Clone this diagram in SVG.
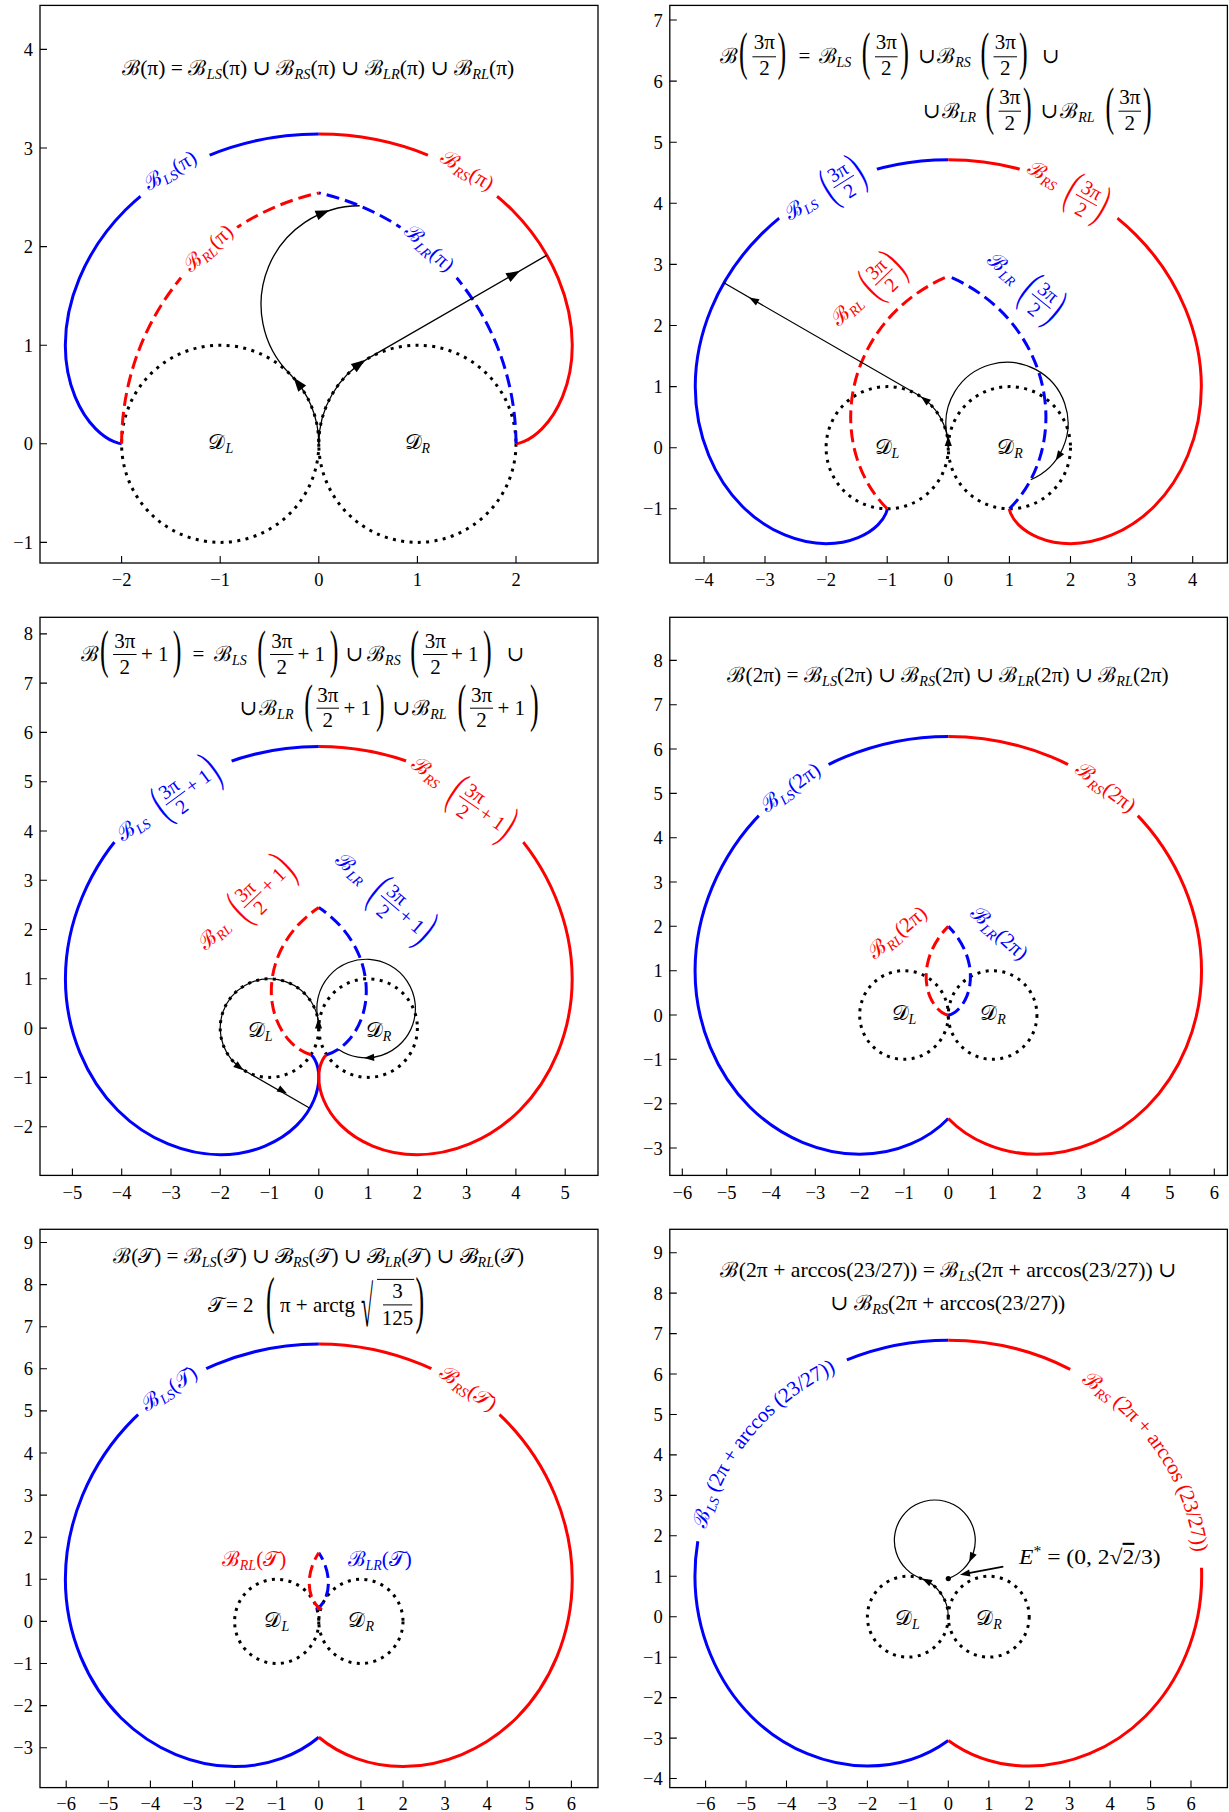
<svg xmlns="http://www.w3.org/2000/svg" width="1229" height="1812" viewBox="0 0 1229 1812">
<style>
.fr{fill:none;stroke:#000;stroke-width:1.3}
.tk{fill:none;stroke:#000;stroke-width:1.1}
.tx{font-family:"Liberation Serif","DejaVu Serif",serif;font-size:18.5px;fill:#000}
.f{font-family:"Liberation Serif","DejaVu Serif",serif;font-size:21px;fill:#000}
.s{font-size:14px;font-style:italic}
.lb{font-family:"Liberation Serif","DejaVu Serif",serif;font-size:21px}
.lf{font-family:"Liberation Serif","DejaVu Serif",serif;font-size:20px}
.bp{font-family:"Liberation Serif","DejaVu Serif",serif;font-size:20px}
.bl{fill:#00f}.rd{fill:#f00}
.cb{fill:none;stroke:#00f}.cr{fill:none;stroke:#f00}
.dc{fill:none;stroke:#000;stroke-width:3;stroke-dasharray:3 5.4}
.tj{fill:none;stroke:#000}
.fb{stroke:#000;stroke-width:1}.fbb{stroke:#00f;stroke-width:1}.fbr{stroke:#f00;stroke-width:1}
.it{font-style:italic}
</style>
<defs>
<path id="ah" d="M7,0L-7,-5L-7,5Z"/>
<path id="ah2" d="M5,0L-5,-3.6L-5,3.6Z"/>
<path id="p1ls" d="M0,3.1416 C-0.8225,3.1416 -1.5228,2.8094 -1.959,2.3732 C-2.3952,1.937 -2.5708,1.4112 -2.5708,1 C-2.5708,0.5888 -2.4079,0.2971 -2.2625,0.1517 C-2.1171,0.0063 -2,0 -2,0"/>
<path id="p1lr" d="M2,0 C2,0.402 1.907,0.8038 1.7333,1.1613 C1.5596,1.5188 1.3062,1.8312 1.0044,2.0686 C0.7026,2.306 0.3533,2.4673 0,2.5441"/>
<path id="p2ls" d="M0,4.7124 C-1.2337,4.7124 -2.3427,4.2109 -3.0697,3.4839 C-3.7967,2.7569 -4.1416,1.8225 -4.1416,1 C-4.1416,0.1775 -3.8094,-0.5228 -3.3732,-0.959 C-2.937,-1.3952 -2.4112,-1.5708 -2,-1.5708 C-1.5888,-1.5708 -1.2971,-1.4079 -1.1517,-1.2625 C-1.0063,-1.1171 -1,-1 -1,-1"/>
<path id="p2lr" d="M1,-1 C1.219,-0.781 1.4009,-0.4877 1.5037,-0.1467 C1.6065,0.1943 1.6291,0.5823 1.551,0.9675 C1.4729,1.3527 1.2945,1.7328 1.0268,2.0556 C0.7591,2.3784 0.4015,2.6423 0,2.8055"/>
<path id="p3ls" d="M0,5.7124 C-1.4955,5.7124 -2.8647,5.1031 -3.7768,4.191 C-4.6889,3.2789 -5.1416,2.0843 -5.1416,1 C-5.1416,-0.0843 -4.7016,-1.0448 -4.0803,-1.6661 C-3.459,-2.2874 -2.673,-2.5708 -2,-2.5708 C-1.327,-2.5708 -0.7751,-2.3001 -0.4446,-1.9696 C-0.1141,-1.6391 0,-1.2618 0,-1 C0,-0.8333 -0.0418,-0.711 -0.0818,-0.6379 C-0.1218,-0.5648 -0.1585,-0.5403 -0.1585,-0.5403"/>
<path id="p3lr" d="M0.1585,-0.5403 C0.2952,-0.5002 0.4669,-0.4049 0.6189,-0.2304 C0.7709,-0.0559 0.8996,0.1985 0.9454,0.5071 C0.9912,0.8157 0.9526,1.1795 0.7958,1.5278 C0.639,1.8761 0.3658,2.2062 0,2.4457"/>
<path id="p4ls" d="M0,6.2832 C-1.6449,6.2832 -3.1627,5.6123 -4.1804,4.5946 C-5.1981,3.5769 -5.7124,2.2337 -5.7124,1 C-5.7124,-0.2337 -5.2109,-1.3427 -4.4839,-2.0697 C-3.7569,-2.7967 -2.8225,-3.1416 -2,-3.1416 C-1.1536,-3.1416 -0.4334,-2.7884 0,-2.3331"/>
<path id="p4lr" d="M0,0 C0,0 0.0558,0.0015 0.1407,0.0583 C0.2256,0.1151 0.3375,0.2291 0.4142,0.4142 C0.4909,0.5993 0.5293,0.8554 0.4725,1.1407 C0.4157,1.426 0.2618,1.7382 0,2"/>
<path id="p5ls" d="M0,6.5906 C-1.7254,6.5906 -3.3231,5.8867 -4.3978,4.812 C-5.4725,3.7373 -6.0198,2.3142 -6.0198,1 C-6.0198,-0.3142 -5.4852,-1.5032 -4.7013,-2.2871 C-3.9174,-3.071 -2.903,-3.449 -2,-3.449 C-1.1981,-3.449 -0.4905,-3.1623 0,-2.7516"/>
<path id="p5lr" d="M0.0469,0.3026 C-0.0306,0.3146 -0.0593,0.2967 -0.0414,0.3047 C-0.0235,0.3127 0.0397,0.3492 0.103,0.4474 C0.1663,0.5456 0.2289,0.7057 0.2282,0.9158 C0.2275,1.1259 0.1616,1.3839 0,1.6309"/>
<path id="t6b" d="M697.8,1541.2 C703.8,1504.5 719.7,1467.6 744.95,1435.8 C770.5,1403.6 805.6,1376.7 846.9,1359.9"/>
<path id="t6r" d="M1070.2,1369.3 C1110.3,1389.9 1143.1,1420.3 1165.5,1455.2 C1188.1,1490.3 1200,1529.8 1201.5,1567.7"/>
<mask id="gap" maskUnits="userSpaceOnUse" x="0" y="0" width="1229" height="1812">
<rect width="1229" height="1812" fill="#fff"/>
<g fill="none" stroke="#000" stroke-width="13">
<polyline points="140.5,196.2 172.3,173.4 209.5,154.9"/>
<polyline points="497.1,196.2 465.3,173.4 428.1,154.9"/>
<polyline points="400.5,227.4 430.2,250.3 456.6,277.8"/>
<polyline points="237.1,227.4 207.4,250.3 181,277.8"/>
<polyline points="779.2,218.2 824.3,188.9 876.8,168.9"/>
<polyline points="1117.4,218.2 1072.3,188.9 1019.8,168.9"/>
<polyline points="114.4,842.1 137.1,817.3 165.4,794.1 198.8,774.3 231.5,760.8"/>
<polyline points="523.2,842.1 500.5,817.3 472.2,794.1 438.8,774.3 406.1,760.8"/>
<polyline points="758.8,815.6 790.95,787.3 828.3,764.1"/>
<polyline points="1137.8,815.6 1105.65,787.3 1068.3,764.1"/>
<polyline points="138.1,1414.5 169.9,1388.9 206.1,1368.4"/>
<polyline points="499.5,1414.5 467.7,1388.9 431.5,1368.4"/>
</g>
</mask>
</defs>
<rect width="1229" height="1812" fill="#fff"/>

<!-- ================= PANEL 1 ================= -->
<g id="panel1">
<rect class="fr" x="40" y="5.4" width="558" height="557.6"/>
<path class="tk" d="M121.6,563v-7M220.2,563v-7M318.8,563v-7M417.4,563v-7M516,563v-7M40,542.4h7M40,443.8h7M40,345.2h7M40,246.6h7M40,148h7M40,49.4h7"/>
<g class="tx" text-anchor="middle"><text x="121.6" y="586">−2</text><text x="220.2" y="586">−1</text><text x="318.8" y="586">0</text><text x="417.4" y="586">1</text><text x="516" y="586">2</text></g>
<g class="tx" text-anchor="end"><text x="33" y="548.9">−1</text><text x="33" y="450.3">0</text><text x="33" y="351.7">1</text><text x="33" y="253.1">2</text><text x="33" y="154.5">3</text><text x="33" y="55.9">4</text></g>
<circle class="dc" cx="220.2" cy="443.8" r="98.6"/><circle class="dc" cx="417.4" cy="443.8" r="98.6"/>
<g mask="url(#gap)"><g transform="translate(318.8,443.8) scale(98.6,-98.6)" stroke-width="0.0304">
<use href="#p1ls" class="cb"/><use href="#p1ls" class="cr" transform="scale(-1,1)"/>
<g stroke-dasharray="0.132 0.061"><use href="#p1lr" class="cb"/><use href="#p1lr" class="cr" transform="scale(-1,1)"/></g>
</g></g>
<g id="p1traj" class="tj" transform="translate(318.8,443.8) scale(98.6,-98.6)" stroke-width="0.0132">
<path d="M0,0 A1,1 0 0 1 -0.2929,0.7071 A1,1 0 0 0 0.4142,2.4142"/>
<path d="M0,0 A1,1 0 0 0 0.5,0.866 L2.3138,1.9132"/>
</g>
<use href="#ah" transform="translate(297.9,383.1) rotate(-128)"/>
<use href="#ah" transform="translate(323,212.8) rotate(-21.8)"/>
<use href="#ah" transform="translate(359.4,364) rotate(-36)"/>
<use href="#ah" transform="translate(514,274.2) rotate(-30)"/>
<text class="f" x="121.7" y="74.5" textLength="392.6" lengthAdjust="spacingAndGlyphs">ℬ(π) = ℬ<tspan class="s" dy="4">LS</tspan><tspan dy="-4">(π) ∪ ℬ</tspan><tspan class="s" dy="4">RS</tspan><tspan dy="-4">(π) ∪ ℬ</tspan><tspan class="s" dy="4">LR</tspan><tspan dy="-4">(π) ∪ ℬ</tspan><tspan class="s" dy="4">RL</tspan><tspan dy="-4">(π)</tspan></text>
<text class="lb bl" transform="translate(170.5,171) rotate(-31)" y="6" text-anchor="middle">ℬ<tspan class="s" dy="4">LS</tspan><tspan dy="-4">(π)</tspan></text>
<text class="lb rd" transform="translate(467,171) rotate(31)" y="6" text-anchor="middle">ℬ<tspan class="s" dy="4">RS</tspan><tspan dy="-4">(π)</tspan></text>
<text class="lb rd" transform="translate(208.5,248.5) rotate(-42)" y="6" text-anchor="middle">ℬ<tspan class="s" dy="4">RL</tspan><tspan dy="-4">(π)</tspan></text>
<text class="lb bl" transform="translate(429,248.5) rotate(42)" y="6" text-anchor="middle">ℬ<tspan class="s" dy="4">LR</tspan><tspan dy="-4">(π)</tspan></text>
<text class="f" x="220.8" y="449" text-anchor="middle">𝒟<tspan class="s" dy="4">L</tspan></text>
<text class="f" x="417.4" y="449" text-anchor="middle">𝒟<tspan class="s" dy="4">R</tspan></text>
</g>

<!-- ================= PANEL 2 ================= -->
<g id="panel2">
<rect class="fr" x="669.8" y="5.4" width="557.6" height="557.6"/>
<path class="tk" d="M704,563v-7M765,563v-7M826.1,563v-7M887.2,563v-7M948.3,563v-7M1009.4,563v-7M1070.5,563v-7M1131.6,563v-7M1192.7,563v-7M669.8,508.8h7M669.8,447.7h7M669.8,386.6h7M669.8,325.5h7M669.8,264.4h7M669.8,203.3h7M669.8,142.2h7M669.8,81.1h7M669.8,20h7"/>
<g class="tx" text-anchor="middle"><text x="704" y="586">−4</text><text x="765" y="586">−3</text><text x="826.1" y="586">−2</text><text x="887.2" y="586">−1</text><text x="948.3" y="586">0</text><text x="1009.4" y="586">1</text><text x="1070.5" y="586">2</text><text x="1131.6" y="586">3</text><text x="1192.7" y="586">4</text></g>
<g class="tx" text-anchor="end"><text x="662.8" y="515.3">−1</text><text x="662.8" y="454.2">0</text><text x="662.8" y="393.1">1</text><text x="662.8" y="332">2</text><text x="662.8" y="270.9">3</text><text x="662.8" y="209.8">4</text><text x="662.8" y="148.7">5</text><text x="662.8" y="87.6">6</text><text x="662.8" y="26.5">7</text></g>
<circle class="dc" cx="887.2" cy="447.7" r="61.1"/><circle class="dc" cx="1009.4" cy="447.7" r="61.1"/>
<g mask="url(#gap)"><g transform="translate(948.3,447.7) scale(61.1,-61.1)" stroke-width="0.0491">
<use href="#p2ls" class="cb"/><use href="#p2ls" class="cr" transform="scale(-1,1)"/>
<g stroke-dasharray="0.213 0.098"><use href="#p2lr" class="cb"/><use href="#p2lr" class="cr" transform="scale(-1,1)"/></g>
</g></g>
<g id="p2traj" class="tj" transform="translate(948.3,447.7) scale(61.1,-61.1)" stroke-width="0.0196">
<path d="M0,0 A1,1 0 0 1 -0.5,0.866 L-3.674,2.699"/>
<path d="M0,0 A1,1 0 0 1 -0.0199,0.1987 A1,1 0 1 0 1.3493,-0.524"/>
</g>
<use href="#ah2" transform="translate(924.8,399.6) rotate(-142)"/>
<use href="#ah2" transform="translate(753.4,299.9) rotate(-150)"/>
<use href="#ah2" transform="translate(948.3,441) rotate(-90)"/>
<use href="#ah2" transform="translate(1058.4,456.4) rotate(122.6)"/>
<g id="p2formula">
<text class="f" x="720" y="63">ℬ</text>
<text class="bp" transform="translate(739,69) scale(1.3,2.6)">(</text>
<text class="f" x="764.4" y="49" text-anchor="middle">3π</text><line class="fb" x1="752.4" y1="56.8" x2="776" y2="56.8"/><text class="f" x="764.4" y="74.8" text-anchor="middle">2</text>
<text class="bp" transform="translate(777.5,69) scale(1.3,2.6)">)</text>
<text class="f" x="798.5" y="63">=</text>
<text class="f" x="818.5" y="63">ℬ<tspan class="s" dy="4">LS</tspan></text>
<text class="bp" transform="translate(861.7,69) scale(1.3,2.6)">(</text>
<text class="f" x="886.3" y="49" text-anchor="middle">3π</text><line class="fb" x1="875" y1="56.8" x2="897.6" y2="56.8"/><text class="f" x="886.3" y="74.8" text-anchor="middle">2</text>
<text class="bp" transform="translate(900.3,69) scale(1.3,2.6)">)</text>
<text class="f" x="918" y="63">∪</text>
<text class="f" x="937.2" y="63">ℬ<tspan class="s" dy="4">RS</tspan></text>
<text class="bp" transform="translate(980.5,69) scale(1.3,2.6)">(</text>
<text class="f" x="1005.2" y="49" text-anchor="middle">3π</text><line class="fb" x1="993.5" y1="56.8" x2="1017" y2="56.8"/><text class="f" x="1005.2" y="74.8" text-anchor="middle">2</text>
<text class="bp" transform="translate(1019,69) scale(1.3,2.6)">)</text>
<text class="f" x="1041.8" y="63">∪</text>
<text class="f" x="922.7" y="118">∪</text>
<text class="f" x="941.6" y="118">ℬ<tspan class="s" dy="4">LR</tspan></text>
<text class="bp" transform="translate(985.6,123.7) scale(1.3,2.6)">(</text>
<text class="f" x="1009.8" y="103.6" text-anchor="middle">3π</text><line class="fb" x1="998.6" y1="111.2" x2="1021" y2="111.2"/><text class="f" x="1009.8" y="130.4" text-anchor="middle">2</text>
<text class="bp" transform="translate(1023,123.7) scale(1.3,2.6)">)</text>
<text class="f" x="1040.6" y="118">∪</text>
<text class="f" x="1060.3" y="118">ℬ<tspan class="s" dy="4">RL</tspan></text>
<text class="bp" transform="translate(1105.6,123.7) scale(1.3,2.6)">(</text>
<text class="f" x="1129.8" y="103.6" text-anchor="middle">3π</text><line class="fb" x1="1118.5" y1="111.2" x2="1141" y2="111.2"/><text class="f" x="1129.8" y="130.4" text-anchor="middle">2</text>
<text class="bp" transform="translate(1143,123.7) scale(1.3,2.6)">)</text>
</g>
<g transform="translate(800.8,207.1) rotate(-32.5)" class="bl">
<text class="lb" y="6" text-anchor="middle">ℬ<tspan class="s" dy="4">LS</tspan></text>
<text class="bp" transform="translate(29,13.5) scale(1.2,2.5)">(</text>
<text class="lf" x="50" y="-3" text-anchor="middle">3π</text><line class="fbb" x1="38" y1="1.5" x2="62" y2="1.5"/><text class="lf" x="50" y="19" text-anchor="middle">2</text>
<text class="bp" transform="translate(63,13.5) scale(1.2,2.5)">)</text>
</g>
<g transform="translate(1043.4,174.5) rotate(29)" class="rd">
<text class="lb" y="6" text-anchor="middle">ℬ<tspan class="s" dy="4">RS</tspan></text>
<text class="bp" transform="translate(29,13.5) scale(1.2,2.5)">(</text>
<text class="lf" x="50" y="-3" text-anchor="middle">3π</text><line class="fbr" x1="38" y1="1.5" x2="62" y2="1.5"/><text class="lf" x="50" y="19" text-anchor="middle">2</text>
<text class="bp" transform="translate(63,13.5) scale(1.2,2.5)">)</text>
</g>
<g transform="translate(846.8,310.7) rotate(-44)" class="rd">
<text class="lb" y="6" text-anchor="middle">ℬ<tspan class="s" dy="4">RL</tspan></text>
<text class="bp" transform="translate(29,13.5) scale(1.2,2.5)">(</text>
<text class="lf" x="50" y="-3" text-anchor="middle">3π</text><line class="fbr" x1="38" y1="1.5" x2="62" y2="1.5"/><text class="lf" x="50" y="19" text-anchor="middle">2</text>
<text class="bp" transform="translate(63,13.5) scale(1.2,2.5)">)</text>
</g>
<g transform="translate(1003.3,268.5) rotate(39)" class="bl">
<text class="lb" y="6" text-anchor="middle">ℬ<tspan class="s" dy="4">LR</tspan></text>
<text class="bp" transform="translate(29,13.5) scale(1.2,2.5)">(</text>
<text class="lf" x="50" y="-3" text-anchor="middle">3π</text><line class="fbb" x1="38" y1="1.5" x2="62" y2="1.5"/><text class="lf" x="50" y="19" text-anchor="middle">2</text>
<text class="bp" transform="translate(63,13.5) scale(1.2,2.5)">)</text>
</g>
<text class="f" x="887" y="453.5" text-anchor="middle">𝒟<tspan class="s" dy="4">L</tspan></text>
<text class="f" x="1010" y="453.5" text-anchor="middle">𝒟<tspan class="s" dy="4">R</tspan></text>
</g>

<!-- ================= PANEL 3 ================= -->
<g id="panel3">
<rect class="fr" x="40" y="617.3" width="558" height="558.1"/>
<path class="tk" d="M72.4,1175.4v-7M121.7,1175.4v-7M171,1175.4v-7M220.2,1175.4v-7M269.5,1175.4v-7M318.8,1175.4v-7M368.1,1175.4v-7M417.4,1175.4v-7M466.6,1175.4v-7M515.9,1175.4v-7M565.2,1175.4v-7M40,1126.7h7M40,1077.4h7M40,1028.1h7M40,978.8h7M40,929.5h7M40,880.3h7M40,831h7M40,781.7h7M40,732.4h7M40,683.1h7M40,633.9h7"/>
<g class="tx" text-anchor="middle"><text x="72.4" y="1198.5">−5</text><text x="121.7" y="1198.5">−4</text><text x="171" y="1198.5">−3</text><text x="220.2" y="1198.5">−2</text><text x="269.5" y="1198.5">−1</text><text x="318.8" y="1198.5">0</text><text x="368.1" y="1198.5">1</text><text x="417.4" y="1198.5">2</text><text x="466.6" y="1198.5">3</text><text x="515.9" y="1198.5">4</text><text x="565.2" y="1198.5">5</text></g>
<g class="tx" text-anchor="end"><text x="33" y="1133.2">−2</text><text x="33" y="1083.9">−1</text><text x="33" y="1034.6">0</text><text x="33" y="985.3">1</text><text x="33" y="936">2</text><text x="33" y="886.8">3</text><text x="33" y="837.5">4</text><text x="33" y="788.2">5</text><text x="33" y="738.9">6</text><text x="33" y="689.6">7</text><text x="33" y="640.4">8</text></g>
<circle class="dc" cx="269.5" cy="1028.1" r="49.28"/><circle class="dc" cx="368.1" cy="1028.1" r="49.28"/>
<g mask="url(#gap)"><g transform="translate(318.8,1028.1) scale(49.28,-49.28)" stroke-width="0.0609">
<use href="#p3ls" class="cb"/><use href="#p3ls" class="cr" transform="scale(-1,1)"/>
<g stroke-dasharray="0.264 0.122"><use href="#p3lr" class="cb"/><use href="#p3lr" class="cr" transform="scale(-1,1)"/></g>
</g></g>
<g id="p3traj" class="tj" transform="translate(318.8,1028.1) scale(49.28,-49.28)" stroke-width="0.0243">
<path d="M0,0 A1,1 0 1 1 -1.5,-0.866 L-0.1805,-1.6278"/>
<path d="M0,0 A1,1 0 0 1 -0.0199,0.1987 A1,1 0 1 0 0.395,-0.428"/>
</g>
<use href="#ah2" transform="translate(239.4,1067.1) rotate(37.7)"/>
<use href="#ah2" transform="translate(282.7,1091) rotate(30)"/>
<use href="#ah2" transform="translate(318.5,1023.5) rotate(-90)"/>
<use href="#ah2" transform="translate(369.1,1057.7) rotate(176.5)"/>
<g id="p3formula">
<text class="f" x="80.5" y="661.4">ℬ</text>
<text class="bp" transform="translate(100.1,667.1) scale(1.3,2.6)">(</text>
<text class="f" x="124.7" y="647.9" text-anchor="middle">3π</text><line class="fb" x1="113.1" y1="654.5" x2="136.6" y2="654.5"/><text class="f" x="124.7" y="673.6" text-anchor="middle">2</text>
<text class="f" x="141" y="661.4">+ 1</text>
<text class="bp" transform="translate(172.8,667.1) scale(1.3,2.6)">)</text>
<text class="f" x="192.4" y="661.4">=</text>
<text class="f" x="214" y="661.4">ℬ<tspan class="s" dy="4">LS</tspan></text>
<text class="bp" transform="translate(257.2,667.1) scale(1.3,2.6)">(</text>
<text class="f" x="281.7" y="647.9" text-anchor="middle">3π</text><line class="fb" x1="270" y1="654.5" x2="293.5" y2="654.5"/><text class="f" x="281.7" y="673.6" text-anchor="middle">2</text>
<text class="f" x="297.5" y="661.4">+ 1</text>
<text class="bp" transform="translate(329.8,667.1) scale(1.3,2.6)">)</text>
<text class="f" x="345.5" y="661.4">∪</text>
<text class="f" x="367.1" y="661.4">ℬ<tspan class="s" dy="4">RS</tspan></text>
<text class="bp" transform="translate(410.3,667.1) scale(1.3,2.6)">(</text>
<text class="f" x="435.4" y="647.9" text-anchor="middle">3π</text><line class="fb" x1="423" y1="654.5" x2="447.5" y2="654.5"/><text class="f" x="435.4" y="673.6" text-anchor="middle">2</text>
<text class="f" x="451" y="661.4">+ 1</text>
<text class="bp" transform="translate(483,667.1) scale(1.3,2.6)">)</text>
<text class="f" x="506.5" y="661.4">∪</text>
<text class="f" x="239.5" y="715.1">∪</text>
<text class="f" x="259.1" y="715.1">ℬ<tspan class="s" dy="4">LR</tspan></text>
<text class="bp" transform="translate(304.3,720.8) scale(1.3,2.6)">(</text>
<text class="f" x="327.8" y="701.6" text-anchor="middle">3π</text><line class="fb" x1="316.5" y1="708.2" x2="339" y2="708.2"/><text class="f" x="327.8" y="727.3" text-anchor="middle">2</text>
<text class="f" x="343.5" y="715.1">+ 1</text>
<text class="bp" transform="translate(376,720.8) scale(1.3,2.6)">)</text>
<text class="f" x="392.6" y="715.1">∪</text>
<text class="f" x="412.3" y="715.1">ℬ<tspan class="s" dy="4">RL</tspan></text>
<text class="bp" transform="translate(457.4,720.8) scale(1.3,2.6)">(</text>
<text class="f" x="481.5" y="701.6" text-anchor="middle">3π</text><line class="fb" x1="470" y1="708.2" x2="493" y2="708.2"/><text class="f" x="481.5" y="727.3" text-anchor="middle">2</text>
<text class="f" x="497.4" y="715.1">+ 1</text>
<text class="bp" transform="translate(530,720.8) scale(1.3,2.6)">)</text>
</g>
<g transform="translate(132.7,827.5) rotate(-36.3)" class="bl">
<text class="lb" y="6" text-anchor="middle">ℬ<tspan class="s" dy="4">LS</tspan></text>
<text class="bp" transform="translate(31,13.5) scale(1.2,2.5)">(</text>
<text class="lf" x="52" y="-3" text-anchor="middle">3π</text><line class="fbb" x1="40" y1="1.5" x2="64" y2="1.5"/><text class="lf" x="52" y="19" text-anchor="middle">2</text>
<text class="lf" x="67" y="8">+ 1</text>
<text class="bp" transform="translate(94,13.5) scale(1.2,2.5)">)</text>
</g>
<g transform="translate(427.2,771.8) rotate(34.6)" class="rd">
<text class="lb" y="6" text-anchor="middle">ℬ<tspan class="s" dy="4">RS</tspan></text>
<text class="bp" transform="translate(31,13.5) scale(1.2,2.5)">(</text>
<text class="lf" x="52" y="-3" text-anchor="middle">3π</text><line class="fbr" x1="40" y1="1.5" x2="64" y2="1.5"/><text class="lf" x="52" y="19" text-anchor="middle">2</text>
<text class="lf" x="67" y="8">+ 1</text>
<text class="bp" transform="translate(94,13.5) scale(1.2,2.5)">)</text>
</g>
<g transform="translate(214,934.5) rotate(-43.7)" class="rd">
<text class="lb" y="6" text-anchor="middle">ℬ<tspan class="s" dy="4">RL</tspan></text>
<text class="bp" transform="translate(31,13.5) scale(1.2,2.5)">(</text>
<text class="lf" x="52" y="-3" text-anchor="middle">3π</text><line class="fbr" x1="40" y1="1.5" x2="64" y2="1.5"/><text class="lf" x="52" y="19" text-anchor="middle">2</text>
<text class="lf" x="67" y="8">+ 1</text>
<text class="bp" transform="translate(94,13.5) scale(1.2,2.5)">)</text>
</g>
<g transform="translate(351.4,868.5) rotate(40.2)" class="bl">
<text class="lb" y="6" text-anchor="middle">ℬ<tspan class="s" dy="4">LR</tspan></text>
<text class="bp" transform="translate(31,13.5) scale(1.2,2.5)">(</text>
<text class="lf" x="52" y="-3" text-anchor="middle">3π</text><line class="fbb" x1="40" y1="1.5" x2="64" y2="1.5"/><text class="lf" x="52" y="19" text-anchor="middle">2</text>
<text class="lf" x="67" y="8">+ 1</text>
<text class="bp" transform="translate(94,13.5) scale(1.2,2.5)">)</text>
</g>
<text class="f" x="260.1" y="1037.3" text-anchor="middle">𝒟<tspan class="s" dy="4">L</tspan></text>
<text class="f" x="378.5" y="1037.3" text-anchor="middle">𝒟<tspan class="s" dy="4">R</tspan></text>
</g>

<!-- ================= PANEL 4 ================= -->
<g id="panel4">
<rect class="fr" x="669.8" y="617.3" width="557.6" height="558.1"/>
<path class="tk" d="M682.3,1175.4v-7M726.7,1175.4v-7M771,1175.4v-7M815.3,1175.4v-7M859.6,1175.4v-7M904,1175.4v-7M948.3,1175.4v-7M992.6,1175.4v-7M1037,1175.4v-7M1081.3,1175.4v-7M1125.6,1175.4v-7M1169.9,1175.4v-7M1214.3,1175.4v-7M669.8,1148h7M669.8,1103.7h7M669.8,1059.3h7M669.8,1015h7M669.8,970.7h7M669.8,926.3h7M669.8,882h7M669.8,837.7h7M669.8,793.4h7M669.8,749h7M669.8,704.7h7M669.8,660.4h7"/>
<g class="tx" text-anchor="middle"><text x="682.3" y="1198.5">−6</text><text x="726.7" y="1198.5">−5</text><text x="771" y="1198.5">−4</text><text x="815.3" y="1198.5">−3</text><text x="859.6" y="1198.5">−2</text><text x="904" y="1198.5">−1</text><text x="948.3" y="1198.5">0</text><text x="992.6" y="1198.5">1</text><text x="1037" y="1198.5">2</text><text x="1081.3" y="1198.5">3</text><text x="1125.6" y="1198.5">4</text><text x="1169.9" y="1198.5">5</text><text x="1214.3" y="1198.5">6</text></g>
<g class="tx" text-anchor="end"><text x="662.8" y="1154.5">−3</text><text x="662.8" y="1110.2">−2</text><text x="662.8" y="1065.8">−1</text><text x="662.8" y="1021.5">0</text><text x="662.8" y="977.2">1</text><text x="662.8" y="932.8">2</text><text x="662.8" y="888.5">3</text><text x="662.8" y="844.2">4</text><text x="662.8" y="799.9">5</text><text x="662.8" y="755.5">6</text><text x="662.8" y="711.2">7</text><text x="662.8" y="666.9">8</text></g>
<circle class="dc" cx="904" cy="1015" r="44.33"/><circle class="dc" cx="992.6" cy="1015" r="44.33"/>
<g mask="url(#gap)"><g transform="translate(948.3,1015) scale(44.33,-44.33)" stroke-width="0.0677">
<use href="#p4ls" class="cb"/><use href="#p4ls" class="cr" transform="scale(-1,1)"/>
<g stroke-dasharray="0.293 0.135"><use href="#p4lr" class="cb"/><use href="#p4lr" class="cr" transform="scale(-1,1)"/></g>
</g></g>
<text class="f" x="727.3" y="682" textLength="441.2" lengthAdjust="spacingAndGlyphs">ℬ(2π) = ℬ<tspan class="s" dy="4">LS</tspan><tspan dy="-4">(2π) ∪ ℬ</tspan><tspan class="s" dy="4">RS</tspan><tspan dy="-4">(2π) ∪ ℬ</tspan><tspan class="s" dy="4">LR</tspan><tspan dy="-4">(2π) ∪ ℬ</tspan><tspan class="s" dy="4">RL</tspan><tspan dy="-4">(2π)</tspan></text>
<text class="lb bl" transform="translate(791,788) rotate(-36.5)" y="6" text-anchor="middle">ℬ<tspan class="s" dy="4">LS</tspan><tspan dy="-4">(2π)</tspan></text>
<text class="lb rd" transform="translate(1105.6,788) rotate(36.5)" y="6" text-anchor="middle">ℬ<tspan class="s" dy="4">RS</tspan><tspan dy="-4">(2π)</tspan></text>
<text class="lb rd" transform="translate(897.9,933) rotate(-40.3)" y="6" text-anchor="middle">ℬ<tspan class="s" dy="4">RL</tspan><tspan dy="-4">(2π)</tspan></text>
<text class="lb bl" transform="translate(998.6,933.7) rotate(41.4)" y="6" text-anchor="middle">ℬ<tspan class="s" dy="4">LR</tspan><tspan dy="-4">(2π)</tspan></text>
<text class="f" x="904" y="1020" text-anchor="middle">𝒟<tspan class="s" dy="4">L</tspan></text>
<text class="f" x="993" y="1020" text-anchor="middle">𝒟<tspan class="s" dy="4">R</tspan></text>
</g>

<!-- ================= PANEL 5 ================= -->
<g id="panel5">
<rect class="fr" x="40" y="1229.3" width="558" height="558.3"/>
<path class="tk" d="M66.2,1787.6v-7M108.3,1787.6v-7M150.4,1787.6v-7M192.5,1787.6v-7M234.6,1787.6v-7M276.7,1787.6v-7M318.8,1787.6v-7M360.9,1787.6v-7M403,1787.6v-7M445.1,1787.6v-7M487.2,1787.6v-7M529.3,1787.6v-7M571.4,1787.6v-7M40,1747.7h7M40,1705.6h7M40,1663.5h7M40,1621.4h7M40,1579.3h7M40,1537.2h7M40,1495.1h7M40,1453h7M40,1410.9h7M40,1368.8h7M40,1326.7h7M40,1284.6h7M40,1242.5h7"/>
<g class="tx" text-anchor="middle"><text x="66.2" y="1809.5">−6</text><text x="108.3" y="1809.5">−5</text><text x="150.4" y="1809.5">−4</text><text x="192.5" y="1809.5">−3</text><text x="234.6" y="1809.5">−2</text><text x="276.7" y="1809.5">−1</text><text x="318.8" y="1809.5">0</text><text x="360.9" y="1809.5">1</text><text x="403" y="1809.5">2</text><text x="445.1" y="1809.5">3</text><text x="487.2" y="1809.5">4</text><text x="529.3" y="1809.5">5</text><text x="571.4" y="1809.5">6</text></g>
<g class="tx" text-anchor="end"><text x="33" y="1754.2">−3</text><text x="33" y="1712.1">−2</text><text x="33" y="1670">−1</text><text x="33" y="1627.9">0</text><text x="33" y="1585.8">1</text><text x="33" y="1543.7">2</text><text x="33" y="1501.6">3</text><text x="33" y="1459.5">4</text><text x="33" y="1417.4">5</text><text x="33" y="1375.3">6</text><text x="33" y="1333.2">7</text><text x="33" y="1291.1">8</text><text x="33" y="1249">9</text></g>
<circle class="dc" cx="276.7" cy="1621.4" r="42.1"/><circle class="dc" cx="360.9" cy="1621.4" r="42.1"/>
<g mask="url(#gap)"><g transform="translate(318.8,1621.4) scale(42.1,-42.1)" stroke-width="0.0713">
<use href="#p5ls" class="cb"/><use href="#p5ls" class="cr" transform="scale(-1,1)"/>
<g stroke-dasharray="0.309 0.143"><use href="#p5lr" class="cb"/><use href="#p5lr" class="cr" transform="scale(-1,1)"/></g>
</g></g>
<text class="f" x="113.1" y="1263.4" textLength="411" lengthAdjust="spacingAndGlyphs">ℬ(𝒯) = ℬ<tspan class="s" dy="4">LS</tspan><tspan dy="-4">(𝒯) ∪ ℬ</tspan><tspan class="s" dy="4">RS</tspan><tspan dy="-4">(𝒯) ∪ ℬ</tspan><tspan class="s" dy="4">LR</tspan><tspan dy="-4">(𝒯) ∪ ℬ</tspan><tspan class="s" dy="4">RL</tspan><tspan dy="-4">(𝒯)</tspan></text>
<g id="p5formula2">
<text class="f" x="208.1" y="1311.5">𝒯</text>
<text class="f" x="226" y="1311.5">= 2</text>
<text class="bp" transform="translate(266,1321) scale(1.3,3.2)">(</text>
<text class="f" x="280" y="1311.5">π + arctg</text>
<text class="bp" transform="translate(361,1326) scale(1.1,2.9)">√</text>
<line class="fb" x1="377" y1="1279.4" x2="414.2" y2="1279.4"/>
<text class="f" x="397.6" y="1297.8" text-anchor="middle">3</text>
<line class="fb" x1="383" y1="1304.9" x2="412.2" y2="1304.9"/>
<text class="f" x="397.6" y="1325.2" text-anchor="middle">125</text>
<text class="bp" transform="translate(415.4,1321) scale(1.3,3.2)">)</text>
</g>
<text class="lb bl" transform="translate(169.5,1389) rotate(-34)" y="6" text-anchor="middle">ℬ<tspan class="s" dy="4">LS</tspan><tspan dy="-4">(𝒯)</tspan></text>
<text class="lb rd" transform="translate(468.1,1389) rotate(34)" y="6" text-anchor="middle">ℬ<tspan class="s" dy="4">RS</tspan><tspan dy="-4">(𝒯)</tspan></text>
<text class="lb rd" x="221.8" y="1565.8">ℬ<tspan class="s" dy="4">RL</tspan><tspan dy="-4">(𝒯)</tspan></text>
<text class="lb bl" x="347.5" y="1565.8">ℬ<tspan class="s" dy="4">LR</tspan><tspan dy="-4">(𝒯)</tspan></text>
<text class="f" x="276.8" y="1627" text-anchor="middle">𝒟<tspan class="s" dy="4">L</tspan></text>
<text class="f" x="361.2" y="1627" text-anchor="middle">𝒟<tspan class="s" dy="4">R</tspan></text>
</g>

<!-- ================= PANEL 6 ================= -->
<g id="panel6">
<rect class="fr" x="669.8" y="1229.3" width="557.6" height="558.3"/>
<path class="tk" d="M705.6,1787.6v-7M746.1,1787.6v-7M786.5,1787.6v-7M827,1787.6v-7M867.4,1787.6v-7M907.9,1787.6v-7M948.3,1787.6v-7M988.8,1787.6v-7M1029.2,1787.6v-7M1069.7,1787.6v-7M1110.1,1787.6v-7M1150.6,1787.6v-7M1191,1787.6v-7M669.8,1778.5h7M669.8,1738.1h7M669.8,1697.6h7M669.8,1657.2h7M669.8,1616.7h7M669.8,1576.3h7M669.8,1535.8h7M669.8,1495.4h7M669.8,1454.9h7M669.8,1414.5h7M669.8,1374h7M669.8,1333.6h7M669.8,1293.1h7M669.8,1252.7h7"/>
<g class="tx" text-anchor="middle"><text x="705.6" y="1809.5">−6</text><text x="746.1" y="1809.5">−5</text><text x="786.5" y="1809.5">−4</text><text x="827" y="1809.5">−3</text><text x="867.4" y="1809.5">−2</text><text x="907.9" y="1809.5">−1</text><text x="948.3" y="1809.5">0</text><text x="988.8" y="1809.5">1</text><text x="1029.2" y="1809.5">2</text><text x="1069.7" y="1809.5">3</text><text x="1110.1" y="1809.5">4</text><text x="1150.6" y="1809.5">5</text><text x="1191" y="1809.5">6</text></g>
<g class="tx" text-anchor="end"><text x="662.8" y="1785">−4</text><text x="662.8" y="1744.6">−3</text><text x="662.8" y="1704.1">−2</text><text x="662.8" y="1663.7">−1</text><text x="662.8" y="1623.2">0</text><text x="662.8" y="1582.8">1</text><text x="662.8" y="1542.3">2</text><text x="662.8" y="1501.9">3</text><text x="662.8" y="1461.4">4</text><text x="662.8" y="1421">5</text><text x="662.8" y="1380.5">6</text><text x="662.8" y="1340.1">7</text><text x="662.8" y="1299.6">8</text><text x="662.8" y="1259.2">9</text></g>
<circle class="dc" cx="907.85" cy="1616.7" r="40.45"/><circle class="dc" cx="988.75" cy="1616.7" r="40.45"/>
<g transform="translate(948.3,1616.7) scale(40.45,-40.45)" stroke-width="0.0742">
<path class="cb" d="M0,6.8345 C-0.8817,6.8345 -1.7369,6.6623 -2.5072,6.3484 M-6.1928,1.8664 C-6.2406,1.5756 -6.2637,1.2858 -6.2637,1 C-6.2637,-0.378 -5.7028,-1.6306 -4.8738,-2.4596 C-4.0448,-3.2886 -2.9668,-3.6929 -2,-3.6929 C-1.2226,-3.6929 -0.5202,-3.4419 0,-3.0615"/>
<path class="cr" d="M0,6.8345 C1.0799,6.8345 2.1196,6.5749 3.0138,6.1161 M6.2595,1.2103 C6.2623,1.14 6.2637,1.0698 6.2637,1 C6.2637,-0.378 5.7028,-1.6306 4.8738,-2.4596 C4.0448,-3.2886 2.9668,-3.6929 2,-3.6929 C1.2226,-3.6929 0.5202,-3.4419 0,-3.0615"/>
</g>
<g id="p6traj" class="tj" transform="translate(948.3,1616.7) scale(40.45,-40.45)" stroke-width="0.0297">
<path d="M0,0 A1,1 0 0 1 -0.6667,0.9428 A1,1 0 1 0 0,0.9428"/>
</g>
<use href="#ah2" transform="translate(926.5,1580.8) rotate(207.4)"/>
<use href="#ah2" transform="translate(971.3,1557.8) rotate(115.5)"/>
<circle cx="948.3" cy="1578.6" r="2.6" fill="#000"/>
<line x1="1003.3" y1="1566.6" x2="966" y2="1573.6" stroke="#000" stroke-width="1.6"/>
<use href="#ah2" transform="translate(964.9,1573.9) rotate(169.3)"/>
<text class="f" x="1019" y="1563.8" textLength="141.6" lengthAdjust="spacingAndGlyphs"><tspan class="it">E</tspan><tspan font-size="14" dy="-8">*</tspan><tspan dy="8"> = (0, 2√</tspan><tspan text-decoration="overline">2</tspan>/3)</text>
<text class="f" x="720.2" y="1277" textLength="456" lengthAdjust="spacingAndGlyphs">ℬ(2π + arccos(23/27)) = ℬ<tspan class="s" dy="4">LS</tspan><tspan dy="-4">(2π + arccos(23/27)) ∪</tspan></text>
<text class="f" x="830.3" y="1310.3" textLength="235" lengthAdjust="spacingAndGlyphs">∪ ℬ<tspan class="s" dy="4">RS</tspan><tspan dy="-4">(2π + arccos(23/27))</tspan></text>
<text class="lb bl"><textPath href="#t6b" startOffset="50%" text-anchor="middle"><tspan dy="6">ℬ</tspan><tspan class="s" dy="4">LS</tspan><tspan dy="-4"> (2π + arccos (23/27))</tspan></textPath></text>
<text class="lb rd"><textPath href="#t6r" startOffset="50%" text-anchor="middle"><tspan dy="6">ℬ</tspan><tspan class="s" dy="4">RS</tspan><tspan dy="-4"> (2π + arccos (23/27))</tspan></textPath></text>
<text class="f" x="907.4" y="1625" text-anchor="middle">𝒟<tspan class="s" dy="4">L</tspan></text>
<text class="f" x="989" y="1625" text-anchor="middle">𝒟<tspan class="s" dy="4">R</tspan></text>
</g>
</svg>
